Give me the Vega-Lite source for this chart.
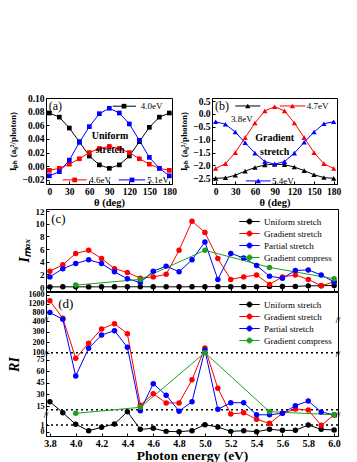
{
"$schema":"https://vega.github.io/schema/vega-lite/v6.json",
"padding":{"left":6,"top":92,"right":2,"bottom":2},
"background":"white",
"config":{
 "font":"Liberation Serif",
 "view":{"stroke":"black","strokeWidth":1},
 "axis":{"labelFont":"Liberation Serif","labelFontWeight":"bold","labelFontSize":9.5,"labelColor":"black","titleFont":"Liberation Serif","titleFontWeight":"bold","titleColor":"black","domainColor":"black","tickColor":"black","grid":false,"tickSize":-3,"labelPadding":5,"labelOverlap":false,"labelFlush":false,"tickCount":100},
 "text":{"font":"Liberation Serif","color":"black"}
},
"datasets":{
 "a":[
  {"s":"4.0eV","t":0,"v":0.078},{"s":"4.0eV","t":15,"v":0.072},{"s":"4.0eV","t":30,"v":0.056},{"s":"4.0eV","t":45,"v":0.036},{"s":"4.0eV","t":60,"v":0.015},{"s":"4.0eV","t":75,"v":0.002},{"s":"4.0eV","t":90,"v":-0.003},{"s":"4.0eV","t":105,"v":0.002},{"s":"4.0eV","t":120,"v":0.015},{"s":"4.0eV","t":135,"v":0.036},{"s":"4.0eV","t":150,"v":0.057},{"s":"4.0eV","t":165,"v":0.072},{"s":"4.0eV","t":180,"v":0.078},
  {"s":"4.6eV","t":0,"v":-0.006},{"s":"4.6eV","t":15,"v":-0.003},{"s":"4.6eV","t":30,"v":0.003},{"s":"4.6eV","t":45,"v":0.011},{"s":"4.6eV","t":60,"v":0.020},{"s":"4.6eV","t":75,"v":0.026},{"s":"4.6eV","t":90,"v":0.029},{"s":"4.6eV","t":105,"v":0.026},{"s":"4.6eV","t":120,"v":0.020},{"s":"4.6eV","t":135,"v":0.011},{"s":"4.6eV","t":150,"v":0.003},{"s":"4.6eV","t":165,"v":-0.003},{"s":"4.6eV","t":180,"v":-0.006},
  {"s":"5.1eV","t":0,"v":-0.014},{"s":"5.1eV","t":15,"v":-0.008},{"s":"5.1eV","t":30,"v":0.009},{"s":"5.1eV","t":45,"v":0.035},{"s":"5.1eV","t":60,"v":0.058},{"s":"5.1eV","t":75,"v":0.077},{"s":"5.1eV","t":90,"v":0.085},{"s":"5.1eV","t":105,"v":0.078},{"s":"5.1eV","t":120,"v":0.062},{"s":"5.1eV","t":135,"v":0.038},{"s":"5.1eV","t":150,"v":0.013},{"s":"5.1eV","t":165,"v":-0.003},{"s":"5.1eV","t":180,"v":-0.014}
 ],
 "b":[
  {"s":"3.8eV","t":0,"v":-2.50},{"s":"3.8eV","t":15,"v":-2.48},{"s":"3.8eV","t":30,"v":-2.38},{"s":"3.8eV","t":45,"v":-2.22},{"s":"3.8eV","t":60,"v":-2.08},{"s":"3.8eV","t":75,"v":-1.98},{"s":"3.8eV","t":90,"v":-1.95},{"s":"3.8eV","t":105,"v":-1.97},{"s":"3.8eV","t":120,"v":-2.06},{"s":"3.8eV","t":135,"v":-2.20},{"s":"3.8eV","t":150,"v":-2.36},{"s":"3.8eV","t":165,"v":-2.47},{"s":"3.8eV","t":180,"v":-2.50},
  {"s":"4.7eV","t":0,"v":-2.12},{"s":"4.7eV","t":15,"v":-1.93},{"s":"4.7eV","t":30,"v":-1.50},{"s":"4.7eV","t":45,"v":-0.92},{"s":"4.7eV","t":60,"v":-0.35},{"s":"4.7eV","t":75,"v":0.12},{"s":"4.7eV","t":90,"v":0.28},{"s":"4.7eV","t":105,"v":0.12},{"s":"4.7eV","t":120,"v":-0.35},{"s":"4.7eV","t":135,"v":-0.92},{"s":"4.7eV","t":150,"v":-1.50},{"s":"4.7eV","t":165,"v":-1.93},{"s":"4.7eV","t":180,"v":-2.12},
  {"s":"5.4eV","t":0,"v":-0.30},{"s":"5.4eV","t":15,"v":-0.40},{"s":"5.4eV","t":30,"v":-0.70},{"s":"5.4eV","t":45,"v":-1.12},{"s":"5.4eV","t":60,"v":-1.52},{"s":"5.4eV","t":75,"v":-1.85},{"s":"5.4eV","t":90,"v":-1.95},{"s":"5.4eV","t":105,"v":-1.85},{"s":"5.4eV","t":120,"v":-1.52},{"s":"5.4eV","t":135,"v":-1.10},{"s":"5.4eV","t":150,"v":-0.70},{"s":"5.4eV","t":165,"v":-0.38},{"s":"5.4eV","t":180,"v":-0.30}
 ],
 "c":[
  {"s":"Uniform stretch","e":3.8,"v":0.02},{"s":"Uniform stretch","e":3.9,"v":0.03},{"s":"Uniform stretch","e":4.0,"v":0.03},{"s":"Uniform stretch","e":4.1,"v":0.02},{"s":"Uniform stretch","e":4.2,"v":0.03},{"s":"Uniform stretch","e":4.3,"v":0.03},{"s":"Uniform stretch","e":4.4,"v":0.04},{"s":"Uniform stretch","e":4.5,"v":0.04},{"s":"Uniform stretch","e":4.6,"v":0.03},{"s":"Uniform stretch","e":4.7,"v":0.03},{"s":"Uniform stretch","e":4.8,"v":0.03},{"s":"Uniform stretch","e":4.9,"v":0.04},{"s":"Uniform stretch","e":5.0,"v":0.05},{"s":"Uniform stretch","e":5.1,"v":0.06},{"s":"Uniform stretch","e":5.2,"v":0.05},{"s":"Uniform stretch","e":5.3,"v":0.06},{"s":"Uniform stretch","e":5.4,"v":0.06},{"s":"Uniform stretch","e":5.5,"v":0.1},{"s":"Uniform stretch","e":5.6,"v":0.08},{"s":"Uniform stretch","e":5.7,"v":0.1},{"s":"Uniform stretch","e":5.8,"v":0.18},{"s":"Uniform stretch","e":5.9,"v":0.2},{"s":"Uniform stretch","e":6.0,"v":0.25},
  {"s":"Gradient stretch","e":3.8,"v":2.5},{"s":"Gradient stretch","e":3.9,"v":3.5},{"s":"Gradient stretch","e":4.0,"v":5.3},{"s":"Gradient stretch","e":4.1,"v":5.8},{"s":"Gradient stretch","e":4.2,"v":4.5},{"s":"Gradient stretch","e":4.3,"v":2.9},{"s":"Gradient stretch","e":4.4,"v":2.3},{"s":"Gradient stretch","e":4.5,"v":1.4},{"s":"Gradient stretch","e":4.6,"v":1.6},{"s":"Gradient stretch","e":4.7,"v":2.0},{"s":"Gradient stretch","e":4.8,"v":5.8},{"s":"Gradient stretch","e":4.9,"v":10.4},{"s":"Gradient stretch","e":5.0,"v":8.6},{"s":"Gradient stretch","e":5.1,"v":4.5},{"s":"Gradient stretch","e":5.2,"v":1.2},{"s":"Gradient stretch","e":5.3,"v":1.6},{"s":"Gradient stretch","e":5.4,"v":1.9},{"s":"Gradient stretch","e":5.5,"v":0.4},{"s":"Gradient stretch","e":5.6,"v":1.6},{"s":"Gradient stretch","e":5.7,"v":1.9},{"s":"Gradient stretch","e":5.8,"v":1.2},{"s":"Gradient stretch","e":5.9,"v":0.2},{"s":"Gradient stretch","e":6.0,"v":0.8},
  {"s":"Partial stretch","e":3.8,"v":1.6},{"s":"Partial stretch","e":3.9,"v":2.9},{"s":"Partial stretch","e":4.0,"v":3.7},{"s":"Partial stretch","e":4.1,"v":4.3},{"s":"Partial stretch","e":4.2,"v":3.7},{"s":"Partial stretch","e":4.3,"v":2.4},{"s":"Partial stretch","e":4.4,"v":1.3},{"s":"Partial stretch","e":4.5,"v":0.7},{"s":"Partial stretch","e":4.6,"v":2.5},{"s":"Partial stretch","e":4.7,"v":3.3},{"s":"Partial stretch","e":4.8,"v":2.4},{"s":"Partial stretch","e":4.9,"v":4.3},{"s":"Partial stretch","e":5.0,"v":7.1},{"s":"Partial stretch","e":5.1,"v":1.2},{"s":"Partial stretch","e":5.2,"v":5.3},{"s":"Partial stretch","e":5.3,"v":4.6},{"s":"Partial stretch","e":5.4,"v":3.4},{"s":"Partial stretch","e":5.5,"v":1.7},{"s":"Partial stretch","e":5.6,"v":1.4},{"s":"Partial stretch","e":5.7,"v":2.6},{"s":"Partial stretch","e":5.8,"v":2.7},{"s":"Partial stretch","e":5.9,"v":1.9},{"s":"Partial stretch","e":6.0,"v":0.8},
  {"s":"Gradient compress","e":4.0,"v":0.3},{"s":"Gradient compress","e":4.5,"v":1.2},{"s":"Gradient compress","e":5.0,"v":5.8},{"s":"Gradient compress","e":5.5,"v":3.1},{"s":"Gradient compress","e":6.0,"v":1.3}
 ],
 "d":[
  {"s":"Uniform stretch","e":3.8,"v":20.6},{"s":"Uniform stretch","e":3.9,"v":6.3},{"s":"Uniform stretch","e":4.0,"v":1.1},{"s":"Uniform stretch","e":4.1,"v":0.15},{"s":"Uniform stretch","e":4.2,"v":0.65},{"s":"Uniform stretch","e":4.3,"v":1.15},{"s":"Uniform stretch","e":4.4,"v":7.6},{"s":"Uniform stretch","e":4.5,"v":0.35},{"s":"Uniform stretch","e":4.6,"v":0.5},{"s":"Uniform stretch","e":4.7,"v":0.05},{"s":"Uniform stretch","e":4.8,"v":0.0},{"s":"Uniform stretch","e":4.9,"v":0.15},{"s":"Uniform stretch","e":5.0,"v":1.05},{"s":"Uniform stretch","e":5.1,"v":0.7},{"s":"Uniform stretch","e":5.2,"v":0.05},{"s":"Uniform stretch","e":5.3,"v":0.15},{"s":"Uniform stretch","e":5.4,"v":0.0},{"s":"Uniform stretch","e":5.5,"v":0.35},{"s":"Uniform stretch","e":5.6,"v":0.2},{"s":"Uniform stretch","e":5.7,"v":0.2},{"s":"Uniform stretch","e":5.8,"v":1.0},{"s":"Uniform stretch","e":5.9,"v":0.35},{"s":"Uniform stretch","e":6.0,"v":0.25},
  {"s":"Gradient stretch","e":3.8,"v":1330},{"s":"Gradient stretch","e":3.9,"v":530},{"s":"Gradient stretch","e":4.0,"v":77},{"s":"Gradient stretch","e":4.1,"v":190},{"s":"Gradient stretch","e":4.2,"v":325},{"s":"Gradient stretch","e":4.3,"v":375},{"s":"Gradient stretch","e":4.4,"v":280},{"s":"Gradient stretch","e":4.5,"v":16},{"s":"Gradient stretch","e":4.6,"v":31},{"s":"Gradient stretch","e":4.7,"v":19},{"s":"Gradient stretch","e":4.8,"v":19},{"s":"Gradient stretch","e":4.9,"v":49},{"s":"Gradient stretch","e":5.0,"v":145},{"s":"Gradient stretch","e":5.1,"v":38},{"s":"Gradient stretch","e":5.2,"v":4.8},{"s":"Gradient stretch","e":5.3,"v":6.3},{"s":"Gradient stretch","e":5.4,"v":1.85},{"s":"Gradient stretch","e":5.5,"v":1.25},{"s":"Gradient stretch","e":5.6,"v":5.5},{"s":"Gradient stretch","e":5.7,"v":11},{"s":"Gradient stretch","e":5.8,"v":9.8},{"s":"Gradient stretch","e":5.9,"v":0.95},{"s":"Gradient stretch","e":6.0,"v":4.2},
  {"s":"Partial stretch","e":3.8,"v":790},{"s":"Partial stretch","e":3.9,"v":480},{"s":"Partial stretch","e":4.0,"v":54},{"s":"Partial stretch","e":4.1,"v":142},{"s":"Partial stretch","e":4.2,"v":267},{"s":"Partial stretch","e":4.3,"v":308},{"s":"Partial stretch","e":4.4,"v":151},{"s":"Partial stretch","e":4.5,"v":8.8},{"s":"Partial stretch","e":4.6,"v":44},{"s":"Partial stretch","e":4.7,"v":29},{"s":"Partial stretch","e":4.8,"v":8.3},{"s":"Partial stretch","e":4.9,"v":20.6},{"s":"Partial stretch","e":5.0,"v":125},{"s":"Partial stretch","e":5.1,"v":10.7},{"s":"Partial stretch","e":5.2,"v":19.3},{"s":"Partial stretch","e":5.3,"v":19.3},{"s":"Partial stretch","e":5.4,"v":4.3},{"s":"Partial stretch","e":5.5,"v":4.3},{"s":"Partial stretch","e":5.6,"v":5.5},{"s":"Partial stretch","e":5.7,"v":15.4},{"s":"Partial stretch","e":5.8,"v":21.5},{"s":"Partial stretch","e":5.9,"v":7.2},{"s":"Partial stretch","e":6.0,"v":4.3},
  {"s":"Gradient compress","e":4.0,"v":5.5},{"s":"Gradient compress","e":4.5,"v":13.3},{"s":"Gradient compress","e":5.0,"v":100},{"s":"Gradient compress","e":5.5,"v":7.6},{"s":"Gradient compress","e":6.0,"v":4.3}
 ]
},
"spacing":-4,
"resolve":{"scale":{"color":"independent"},"legend":{"color":"independent"}},
"vconcat":[
 {"hconcat":[
   {"width":126,"height":86,
    "layer":[
     {"data":{"name":"a"},"mark":{"type":"line","strokeWidth":1},
      "encoding":{
       "x":{"field":"t","type":"quantitative","scale":{"domain":[-5,184],"nice":false,"zero":false},"axis":{"values":[0,30,60,90,120,150,180],"tickCount":100,"labelOverlap":false,"title":"θ (deg)","titleFontSize":10.5,"titlePadding":2}},
       "y":{"field":"v","type":"quantitative","scale":{"domain":[-0.026,0.1],"nice":false,"zero":false},"axis":{"values":[-0.02,0,0.02,0.04,0.06,0.08,0.1],"tickCount":100,"labelOverlap":false,"format":".2f","title":"Iₚₕ (a₀²/photon)","titleFontSize":9,"titlePadding":4}},
       "color":{"field":"s","type":"nominal","scale":{"domain":["4.0eV","4.6eV","5.1eV"],"range":["#000000","#ff0000","#0000ff"]},"legend":null}}},
     {"data":{"name":"a"},"mark":{"type":"point","shape":"square","filled":true,"size":22,"opacity":1},
      "encoding":{"x":{"field":"t","type":"quantitative"},"y":{"field":"v","type":"quantitative"},"color":{"field":"s","type":"nominal","legend":null}}},
     {"data":{"values":[{}]},"mark":{"type":"rule","color":"#000000","strokeWidth":1},"encoding":{"x":{"datum":95},"x2":{"datum":130},"y":{"datum":0.088}}},
     {"data":{"values":[{}]},"mark":{"type":"point","shape":"square","filled":true,"size":22,"color":"#000000","opacity":1},"encoding":{"x":{"datum":112},"y":{"datum":0.088}}},
     {"data":{"values":[{}]},"mark":{"type":"text","align":"left","baseline":"middle","fontSize":9},"encoding":{"x":{"datum":137},"y":{"datum":0.088},"text":{"value":"4.0eV"}}},
     {"data":{"values":[{}]},"mark":{"type":"rule","color":"#ff0000","strokeWidth":1},"encoding":{"x":{"datum":20},"x2":{"datum":56},"y":{"datum":-0.020}}},
     {"data":{"values":[{}]},"mark":{"type":"point","shape":"square","filled":true,"size":22,"color":"#ff0000","opacity":1},"encoding":{"x":{"datum":38},"y":{"datum":-0.020}}},
     {"data":{"values":[{}]},"mark":{"type":"text","align":"left","baseline":"middle","fontSize":9},"encoding":{"x":{"datum":60},"y":{"datum":-0.020},"text":{"value":"4.6eV"}}},
     {"data":{"values":[{}]},"mark":{"type":"rule","color":"#0000ff","strokeWidth":1},"encoding":{"x":{"datum":104},"x2":{"datum":144},"y":{"datum":-0.020}}},
     {"data":{"values":[{}]},"mark":{"type":"point","shape":"square","filled":true,"size":22,"color":"#0000ff","opacity":1},"encoding":{"x":{"datum":124},"y":{"datum":-0.020}}},
     {"data":{"values":[{}]},"mark":{"type":"text","align":"left","baseline":"middle","fontSize":9},"encoding":{"x":{"datum":147},"y":{"datum":-0.020},"text":{"value":"5.1eV"}}},
     {"data":{"values":[{}]},"mark":{"type":"text","align":"left","baseline":"middle","fontSize":12},"encoding":{"x":{"datum":-1},"y":{"datum":0.088},"text":{"value":"(a)"}}},
     {"data":{"values":[{}]},"mark":{"type":"text","align":"center","baseline":"middle","fontSize":10,"fontWeight":"bold","lineHeight":14},"encoding":{"x":{"datum":91},"y":{"datum":0.045},"text":{"value":["Uniform","stretch"]}}}
    ]},
   {"width":125,"height":86,
    "layer":[
     {"data":{"name":"b"},"mark":{"type":"line","strokeWidth":1},
      "encoding":{
       "x":{"field":"t","type":"quantitative","scale":{"domain":[-5.5,185],"nice":false,"zero":false},"axis":{"values":[0,30,60,90,120,150,180],"tickCount":100,"labelOverlap":false,"title":"θ (deg)","titleFontSize":10.5,"titlePadding":2}},
       "y":{"field":"v","type":"quantitative","scale":{"domain":[-2.72,0.62],"nice":false,"zero":false},"axis":{"values":[-2.5,-2,-1.5,-1,-0.5,0,0.5],"tickCount":100,"labelOverlap":false,"format":".1f","title":"Iₚₕ (a₀²/photon)","titleFontSize":9,"titlePadding":4}},
       "color":{"field":"s","type":"nominal","scale":{"domain":["3.8eV","4.7eV","5.4eV"],"range":["#000000","#ff0000","#0000ff"]},"legend":null}}},
     {"data":{"name":"b"},"mark":{"type":"point","shape":"triangle-up","filled":true,"size":28,"opacity":1},
      "encoding":{"x":{"field":"t","type":"quantitative"},"y":{"field":"v","type":"quantitative"},"color":{"field":"s","type":"nominal","legend":null}}},
     {"data":{"values":[{}]},"mark":{"type":"rule","color":"#000000","strokeWidth":1},"encoding":{"x":{"datum":30},"x2":{"datum":68},"y":{"datum":0.31}}},
     {"data":{"values":[{}]},"mark":{"type":"point","shape":"triangle-up","filled":true,"size":28,"color":"#000000","opacity":1},"encoding":{"x":{"datum":49},"y":{"datum":0.31}}},
     {"data":{"values":[{}]},"mark":{"type":"text","align":"center","baseline":"middle","fontSize":9},"encoding":{"x":{"datum":40},"y":{"datum":-0.2},"text":{"value":"3.8eV"}}},
     {"data":{"values":[{}]},"mark":{"type":"rule","color":"#ff0000","strokeWidth":1},"encoding":{"x":{"datum":98},"x2":{"datum":137},"y":{"datum":0.31}}},
     {"data":{"values":[{}]},"mark":{"type":"point","shape":"triangle-up","filled":true,"size":28,"color":"#ff0000","opacity":1},"encoding":{"x":{"datum":117},"y":{"datum":0.31}}},
     {"data":{"values":[{}]},"mark":{"type":"text","align":"left","baseline":"middle","fontSize":9},"encoding":{"x":{"datum":139},"y":{"datum":0.31},"text":{"value":"4.7eV"}}},
     {"data":{"values":[{}]},"mark":{"type":"rule","color":"#0000ff","strokeWidth":1},"encoding":{"x":{"datum":46},"x2":{"datum":84},"y":{"datum":-2.6}}},
     {"data":{"values":[{}]},"mark":{"type":"point","shape":"triangle-up","filled":true,"size":28,"color":"#0000ff","opacity":1},"encoding":{"x":{"datum":65},"y":{"datum":-2.6}}},
     {"data":{"values":[{}]},"mark":{"type":"text","align":"left","baseline":"middle","fontSize":9},"encoding":{"x":{"datum":86},"y":{"datum":-2.6},"text":{"value":"5.4eV"}}},
     {"data":{"values":[{}]},"mark":{"type":"text","align":"left","baseline":"middle","fontSize":12},"encoding":{"x":{"datum":-1},"y":{"datum":0.31},"text":{"value":"(b)"}}},
     {"data":{"values":[{}]},"mark":{"type":"text","align":"center","baseline":"middle","fontSize":10,"fontWeight":"bold","lineHeight":14},"encoding":{"x":{"datum":90},"y":{"datum":-0.93},"text":{"value":["Gradient","stretch"]}}}
    ]}
  ],
  "spacing":40,
  "bounds":"flush",
  "resolve":{"scale":{"color":"independent"}}
 },
 {"vconcat":[
   {"width":292,"height":82,
    "layer":[
     {"data":{"name":"c"},"mark":{"type":"line","strokeWidth":1,"point":{"filled":true,"size":30,"opacity":1}},
      "encoding":{
       "x":{"field":"e","type":"quantitative","scale":{"domain":[3.77,6.03],"nice":false,"zero":false},"axis":{"values":[3.8,4.0,4.2,4.4,4.6,4.8,5.0,5.2,5.4,5.6,5.8,6.0],"tickCount":100,"labels":false,"title":null}},
       "y":{"field":"v","type":"quantitative","scale":{"domain":[-0.63,12.32],"nice":false,"zero":false},"axis":{"values":[0,2,4,6,8,10,12],"tickCount":100,"labelOverlap":false,"format":"d","labelFontSize":9,"title":"Iₘₐₓ","titleFontSize":15,"titleFontStyle":"italic","titlePadding":4,
         "encode":{"labels":{"update":{"dy":{"signal":"datum.value === 0 ? -1.5 : 0"}}}}}},
       "color":{"field":"s","type":"nominal","scale":{"domain":["Uniform stretch","Gradient stretch","Partial stretch","Gradient compress"],"range":["#000000","#ff0000","#0000ff","#1f9f1f"]},
        "legend":{"title":null,"orient":"top-right","offset":6,"padding":0,"labelFontSize":9,"labelFont":"Liberation Serif","labelColor":"black","symbolType":"M-1.7,0L1.7,0M0.42,0A0.42,0.42,0,1,1,-0.42,0A0.42,0.42,0,1,1,0.42,0Z","symbolSize":144,"labelOffset":8,"rowPadding":0,"symbolStrokeWidth":1,
         "encode":{"symbols":{"update":{"fill":{"signal":"datum.value === 'Uniform stretch' ? '#000000' : datum.value === 'Gradient stretch' ? '#ff0000' : datum.value === 'Partial stretch' ? '#0000ff' : '#1f9f1f'"},"stroke":{"signal":"datum.value === 'Uniform stretch' ? '#000000' : datum.value === 'Gradient stretch' ? '#ff0000' : datum.value === 'Partial stretch' ? '#0000ff' : '#1f9f1f'"},"opacity":{"value":1}}}}}}}},
     {"data":{"values":[{}]},"mark":{"type":"text","align":"left","baseline":"middle","fontSize":13},"encoding":{"x":{"datum":3.81},"y":{"datum":10.7},"text":{"value":"(c)"}}}
    ]},
   {"width":292,"height":144,
    "layer":[
     {"data":{"values":[{}]},"mark":{"type":"rule","strokeDash":[2,3],"strokeWidth":1.5,"color":"black"},"encoding":{"y":{"datum":100}}},
     {"data":{"values":[{}]},"mark":{"type":"rule","strokeDash":[2,3],"strokeWidth":1.5,"color":"black"},"encoding":{"y":{"datum":10}}},
     {"data":{"values":[{}]},"mark":{"type":"rule","strokeDash":[2,3],"strokeWidth":1.5,"color":"black"},"encoding":{"y":{"datum":1}}},
     {"data":{"name":"d"},"mark":{"type":"line","strokeWidth":1,"point":{"filled":true,"size":30,"opacity":1}},
      "encoding":{
       "x":{"field":"e","type":"quantitative","scale":{"domain":[3.77,6.03],"nice":false,"zero":false},"axis":{"values":[3.8,4.0,4.2,4.4,4.6,4.8,5.0,5.2,5.4,5.6,5.8,6.0],"tickCount":100,"labelOverlap":false,"format":".1f","title":"Photon energy (eV)","titleFontSize":13.5,"titlePadding":0,"labelFontSize":10}},
       "y":{"field":"v","type":"quantitative","scale":{"domain":[-0.65,0,2,5,80,100,400,1738],"range":[144,139.7,126.3,121.7,64,60.7,29,0],"nice":false,"zero":false},"axis":{"values":[0,1,15,30,45,60,75,100,200,300,400,800,1200,1600],"tickCount":100,"labelOverlap":false,"format":"d","labelFontSize":8,"title":"RI","titleFontSize":14,"titleFontStyle":"italic","titlePadding":7,
         "encode":{"labels":{"update":{"dy":{"signal":"datum.value === 0 ? 1.2 : datum.value === 1 ? -0.8 : datum.value === 75 ? 0.8 : datum.value === 100 ? -0.8 : datum.value === 1600 ? 1.5 : 0"}}}}}},
       "color":{"field":"s","type":"nominal","scale":{"domain":["Uniform stretch","Gradient stretch","Partial stretch","Gradient compress"],"range":["#000000","#ff0000","#0000ff","#1f9f1f"]},
        "legend":{"title":null,"orient":"top-right","offset":6,"padding":0,"labelFontSize":9,"labelFont":"Liberation Serif","labelColor":"black","symbolType":"M-1.7,0L1.7,0M0.42,0A0.42,0.42,0,1,1,-0.42,0A0.42,0.42,0,1,1,0.42,0Z","symbolSize":144,"labelOffset":8,"rowPadding":0,"symbolStrokeWidth":1,
         "encode":{"symbols":{"update":{"fill":{"signal":"datum.value === 'Uniform stretch' ? '#000000' : datum.value === 'Gradient stretch' ? '#ff0000' : datum.value === 'Partial stretch' ? '#0000ff' : '#1f9f1f'"},"stroke":{"signal":"datum.value === 'Uniform stretch' ? '#000000' : datum.value === 'Gradient stretch' ? '#ff0000' : datum.value === 'Partial stretch' ? '#0000ff' : '#1f9f1f'"},"opacity":{"value":1}}}}}}}},
     {"data":{"values":[{}]},"mark":{"type":"text","align":"left","baseline":"middle","fontSize":13},"encoding":{"x":{"datum":3.865},"y":{"datum":1200},"text":{"value":"(d)"}}},
     {"data":{"values":[{}]},"mark":{"type":"text","align":"center","baseline":"middle","fontSize":8,"fontWeight":"bold"},"encoding":{"x":{"datum":3.77},"y":{"datum":400},"text":{"value":"//"}}},
     {"data":{"values":[{}]},"mark":{"type":"text","align":"center","baseline":"middle","fontSize":8,"fontWeight":"bold"},"encoding":{"x":{"datum":3.77},"y":{"datum":88},"text":{"value":"//"}}},
     {"data":{"values":[{}]},"mark":{"type":"text","align":"center","baseline":"middle","fontSize":8,"fontWeight":"bold"},"encoding":{"x":{"datum":3.77},"y":{"datum":3.5},"text":{"value":"//"}}},
     {"data":{"values":[{}]},"mark":{"type":"text","align":"center","baseline":"middle","fontSize":8,"fontWeight":"bold"},"encoding":{"x":{"datum":6.03},"y":{"datum":400},"text":{"value":"//"}}},
     {"data":{"values":[{}]},"mark":{"type":"text","align":"center","baseline":"middle","fontSize":8,"fontWeight":"bold"},"encoding":{"x":{"datum":6.03},"y":{"datum":88},"text":{"value":"//"}}},
     {"data":{"values":[{}]},"mark":{"type":"text","align":"center","baseline":"middle","fontSize":8,"fontWeight":"bold"},"encoding":{"x":{"datum":6.03},"y":{"datum":3.5},"text":{"value":"//"}}}
    ]}
  ],
  "spacing":1,
  "bounds":"flush",
  "resolve":{"legend":{"color":"independent"}}
 }
]
}
